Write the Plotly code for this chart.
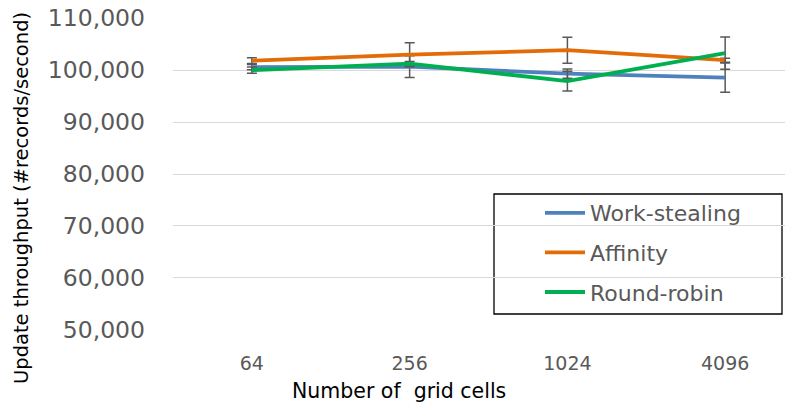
import plotly.graph_objects as go

categories = ["64", "256", "1024", "4096"]
work_stealing = [100580, 100670, 99330, 98560]
affinity = [101830, 102980, 103850, 101920]
round_robin = [100000, 101250, 97900, 103270]
work_stealing_err = [520, 2100, 900, 2800]
affinity_err = [540, 2300, 2500, 400]
round_robin_err = [600, 400, 1900, 3100]
y_ticks = [50000, 60000, 70000, 80000, 90000, 100000, 110000]

xpos = list(range(len(categories)))
series = [
    ("Work-stealing", work_stealing, work_stealing_err, "#4F81BD"),
    ("Affinity", affinity, affinity_err, "#E36C09"),
    ("Round-robin", round_robin, round_robin_err, "#00B050"),
]

fig = go.Figure()
for i, (name, vals, err, col) in enumerate(series):
    fig.add_trace(go.Scatter(
        x=xpos, y=vals, name=name, mode="lines",
        line=dict(color=col, width=3.8),
        error_y=dict(type="data", array=err, color="#595959", thickness=1.5, width=5),
        legendgroup=f"g{i}",
    ))

# page has an 8px body margin; figure coordinates = page coordinates - 8
W, H = 785, 399
L, T, B = 165, 10, 322
PW, PH = W - L, B - T
fig.update_layout(
    width=W, height=H,
    margin=dict(l=L, r=0, t=T, b=H - B, autoexpand=False),
    plot_bgcolor="white", paper_bgcolor="white",
    font=dict(family="DejaVu Sans", color="#595959"),
    showlegend=True,
    legend=dict(
        x=(532 - L) / PW, y=(B - 184) / PH, xanchor="left", yanchor="top",
        bgcolor="rgba(0,0,0,0)", borderwidth=0,
        font=dict(size=22, color="#595959"),
        tracegroupgap=8, itemwidth=40,
    ),
    xaxis=dict(
        tickmode="array", tickvals=xpos, ticktext=categories,
        range=[-0.5, 3.43], showgrid=False, zeroline=False, showline=False,
        automargin=False, ticklabelstandoff=20,
        tickfont=dict(size=19, color="#595959"),
    ),
    yaxis=dict(
        range=[49950, 110050], tickvals=y_ticks, tickformat=",",
        showgrid=True, gridcolor="#D9D9D9", gridwidth=1.3, zeroline=False, showline=False,
        automargin=False, ticklabelstandoff=27, ticklabeloverflow="allow",
        tickfont=dict(size=23.5, color="#595959"),
    ),
    annotations=[
        dict(text="Number of  grid cells", xref="paper", yref="paper",
             x=(391 - L) / PW, y=(B - 383) / PH, xanchor="center", yanchor="middle",
             showarrow=False, font=dict(size=20.5, color="black")),
        dict(text="Update throughput (#records/second)", xref="paper", yref="paper",
             x=(14 - L) / PW, y=(B - 190) / PH, xanchor="center", yanchor="middle",
             textangle=-90, showarrow=False, font=dict(size=19.5, color="black")),
    ],
    shapes=[dict(type="rect", xref="paper", yref="paper",
                 x0=(486 - L) / PW, x1=(774 - L) / PW,
                 y0=(B - 306) / PH, y1=(B - 186) / PH,
                 line=dict(color="black", width=1.3), fillcolor="white", layer="below")],
)
fig.write_html("out.html")
